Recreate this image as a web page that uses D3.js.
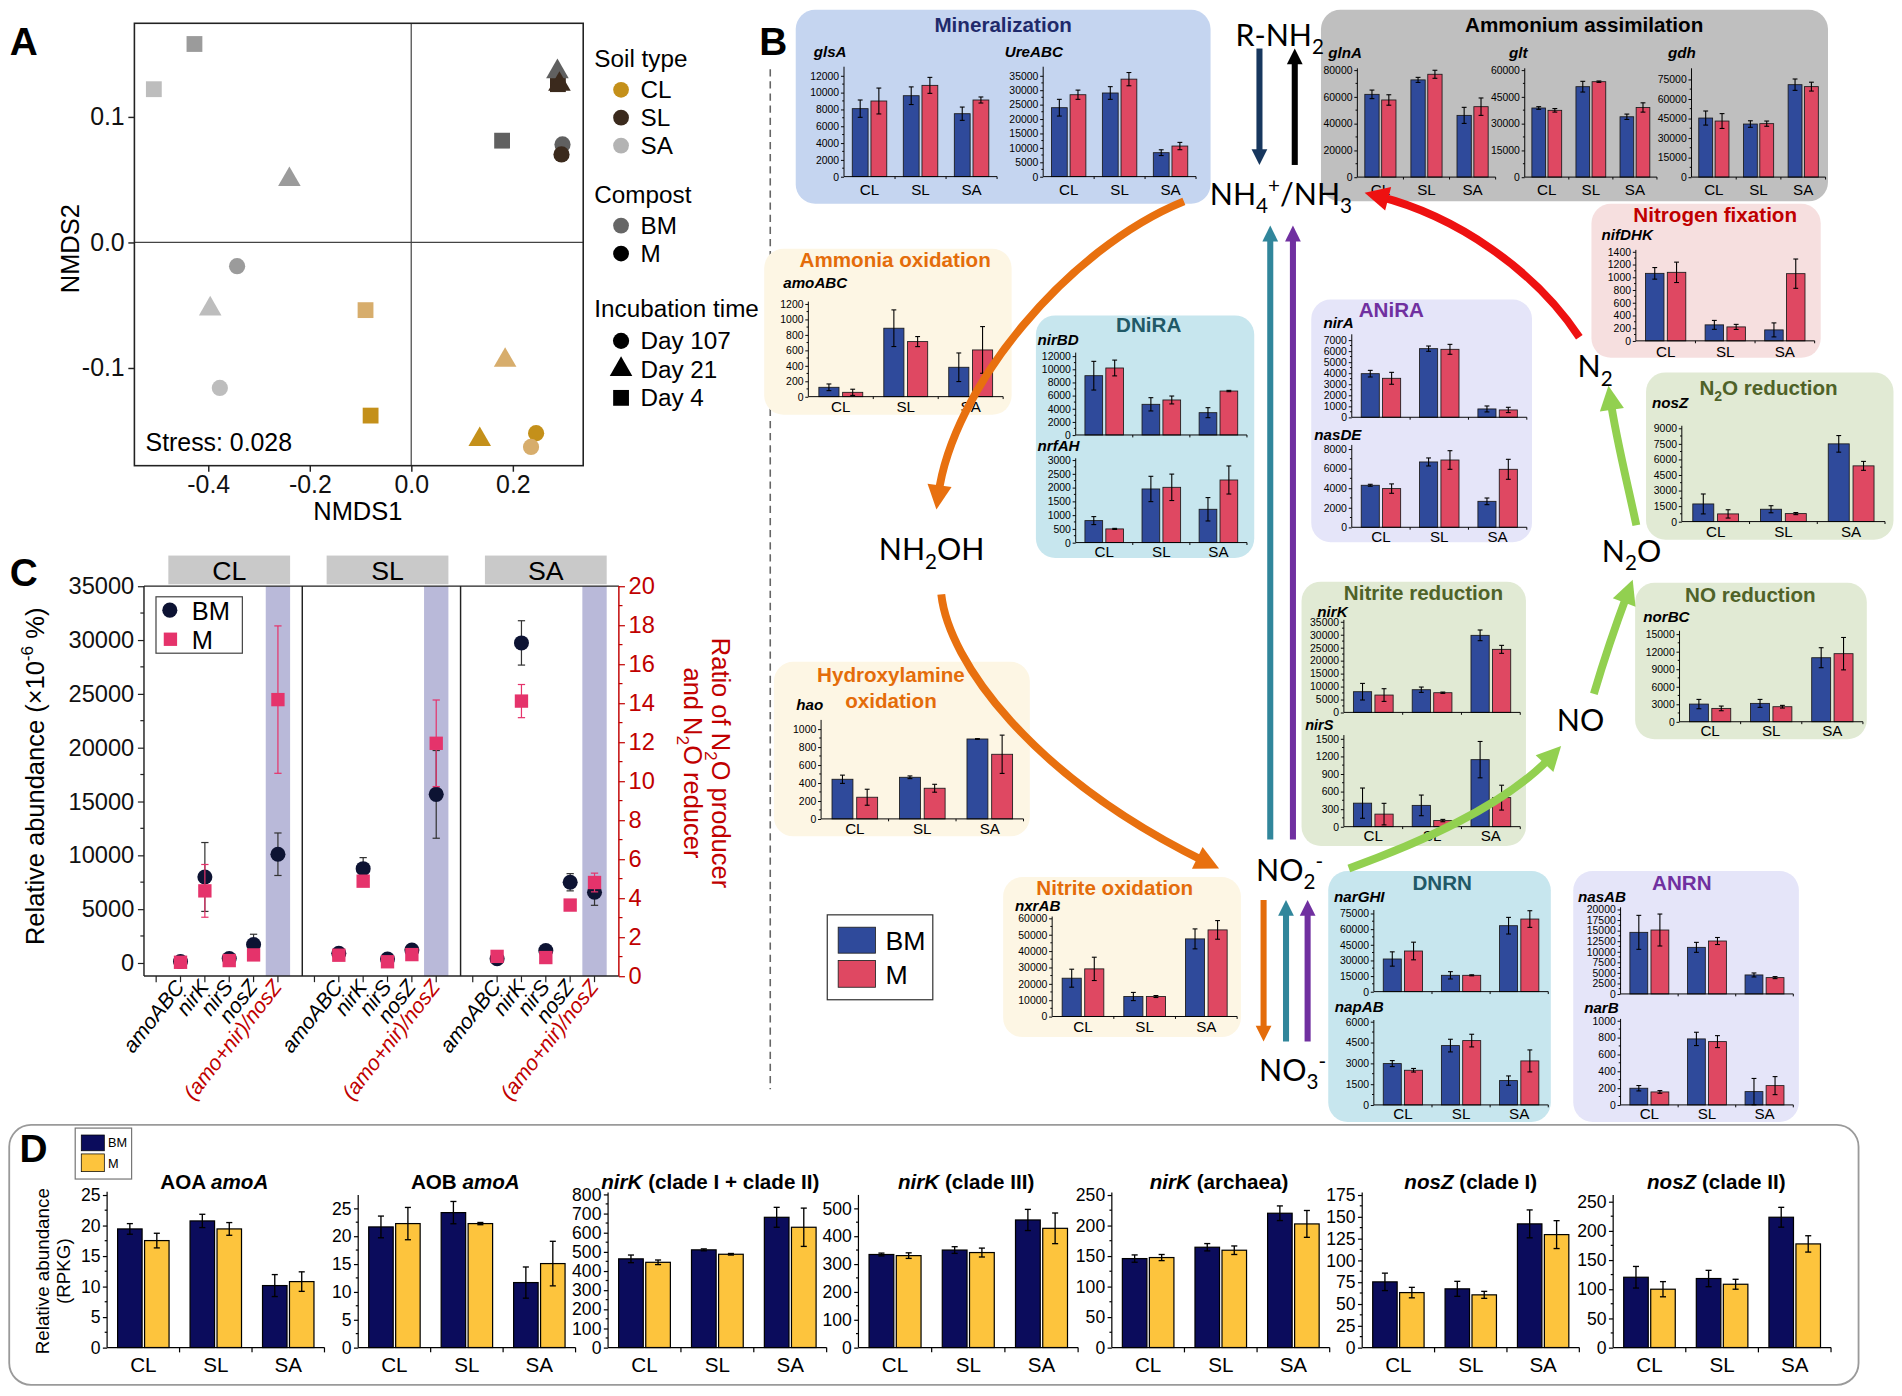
<!DOCTYPE html>
<html><head><meta charset="utf-8">
<script src="https://cdn.jsdelivr.net/npm/d3@7/dist/d3.min.js"></script>
<style>html,body{margin:0;padding:0;background:#fff}svg{display:block}</style>
</head><body>
<svg id="fig" width="1902" height="1396" xmlns="http://www.w3.org/2000/svg"></svg>
<script>
// ================= DATA =================
const soils = ["CL", "SL", "SA"];
const composts = ["BM", "M"];

// Panel A : NMDS ordination
const nmdsSoil    = ["SA","SA","SA","SA","SA","SA","SL","SL","SL","SL","SL","SL","CL","CL","CL","CL","CL","CL"];
const nmdsCompost = ["M","BM","M","BM","M","BM","BM","M","BM","M","BM","M","BM","M","BM","M","M","BM"];
const nmdsDay     = ["4","4","21","21","107","107","4","4","21","21","107","107","4","4","21","21","107","107"];
const nmds1 = [-0.427,-0.507,-0.240,-0.396,-0.343,-0.377, 0.179,0.289,0.288,0.292,0.298,0.296, -0.090,-0.080,0.185,0.135,0.246,0.236];
const nmds2 = [0.158,0.122,0.050,-0.053,-0.019,-0.116, 0.081,0.126,0.136,0.126,0.078,0.070, -0.054,-0.138,-0.094,-0.157,-0.152,-0.163];
const stressLabel = "Stress: 0.028";

// Panel B : gene abundances, rows = [BM, M], columns = [CL, SL, SA]
const glsA = [[8080, 9620, 7480], [8990, 10850, 9110]];
const glsA_err = [[1030, 1050, 790], [1540, 950, 360]];
const UreABC = [[23900, 29000, 8300], [28400, 33800, 10600]];
const UreABC_err = [[2900, 2200, 1000], [1600, 2300, 1270]];
const glnA = [[61800, 72600, 46100], [57600, 76800, 52600]];
const glnA_err = [[3200, 1900, 6000], [3900, 3000, 6500]];
const glt = [[38700, 50650, 33800], [37400, 53450, 39000]];
const glt_err = [[750, 3000, 1500], [1000, 400, 2600]];
const gdh = [[45300, 40700, 70900], [43000, 41000, 69400]];
const gdh_err = [[5400, 2500, 4350], [5700, 2000, 3400]];
const nifDHK = [[1060, 251, 172], [1076, 219, 1055]];
const nifDHK_err = [[91, 70, 110], [160, 40, 230]];
const nosZ = [[1700, 1190, 7490], [740, 770, 5370]];
const nosZ_err = [[960, 340, 800], [400, 100, 430]];
const amoABC = [[121, 885, 380], [56, 712, 604]];
const amoABC_err = [[43, 237, 185], [40, 65, 302]];
const nirBD = [[9010, 4660, 3390], [10180, 5320, 6680]];
const nirBD_err = [[2180, 1010, 760], [1200, 600, 100]];
const nrfAH = [[798, 1947, 1209], [496, 2007, 2273]];
const nrfAH_err = [[145, 460, 425], [20, 480, 510]];
const nirA = [[3950, 6216, 754], [3530, 6156, 664]];
const nirA_err = [[300, 240, 270], [540, 450, 240]];
const nasDE = [[4290, 6670, 2650], [3950, 6870, 5920]];
const nasDE_err = [[100, 410, 340], [480, 950, 1020]];
const hao = [[441, 463, 889], [241, 341, 719]];
const hao_err = [[46, 15, 4], [89, 44, 213]];
const nxrAB = [[23390, 12200, 47390], [29080, 12200, 52880]];
const nxrAB_err = [[5490, 2500, 6100], [7120, 600, 5690]];
const nirK = [[7980, 8750, 29725], [6690, 7590, 24320]];
const nirK_err = [[3200, 1030, 2060], [2450, 250, 1540]];
const nirS = [[401, 363, 1143], [214, 104, 495]];
const nirS_err = [[258, 176, 310], [184, 20, 212]];
const norBC = [[3020, 3140, 10950], [2280, 2570, 11640]];
const norBC_err = [[800, 680, 1710], [400, 230, 2770]];
const narGHI = [[31280, 15640, 63200], [38940, 15640, 69580]];
const narGHI_err = [[6860, 3510, 7980], [8460, 500, 7980]];
const napAB = [[2976, 4272, 1752], [2496, 4632, 3168]];
const napAB_err = [[216, 456, 336], [130, 456, 792]];
const nasAB = [[14570, 11020, 4490], [15120, 12520, 3860]];
const nasAB_err = [[4020, 1180, 470], [3780, 830, 240]];
const narB = [[198, 783, 158], [154, 751, 229]];
const narB_err = [[32, 79, 156], [16, 71, 107]];

// Panel C : ratio of N2O producer / reducer, per soil [CL, SL, SA]
const cLabels = ["amoABC", "nirK", "nirS", "nosZ", "(amo+nir)/nosZ"];
const ratioBM = [6.25, 9.32, 4.30];
const ratioBM_err = [1.09, 2.25, 0.67];
const ratioM = [14.18, 11.94, 4.80];
const ratioM_err = [3.78, 2.22, 0.48];

// Panel D : RPKG, rows = [BM, M]
const aoaAmoA = [[19.43, 20.74, 10.15], [17.52, 19.43, 10.8]];
const aoaAmoA_err = [[0.87, 1.09, 1.8], [1.2, 1.04, 1.6]];
const aobAmoA = [[21.65, 24.22, 11.66], [22.25, 22.25, 15.07]];
const aobAmoA_err = [[1.95, 2.0, 2.8], [2.9, 0.2, 4.0]];
const nirK12 = [[463, 510, 680], [445, 487, 628]];
const nirK12_err = [[20, 5, 52], [12, 4, 100]];
const nirK3 = [[334, 350, 458], [330, 341, 428]];
const nirK3_err = [[5, 12, 38], [10, 16, 55]];
const nirKarch = [[145.7, 164.3, 220], [147.4, 159.4, 202.5]];
const nirKarch_err = [[6, 6, 12], [5, 7, 22]];
const nosZ1 = [[75.3, 67.3, 141.8], [63, 60.4, 129.5]];
const nosZ1_err = [[10, 8.6, 16], [6, 4, 16]];
const nosZ2 = [[120.4, 118.2, 223.2], [99.9, 108.4, 177.5]];
const nosZ2_err = [[18.5, 14, 17], [13, 8.5, 14]];

// ================= STYLE =================
const SANS = "'Liberation Sans', Arial, Helvetica, sans-serif";
const NARROW = "'Liberation Sans Narrow', 'Arial Narrow', 'Liberation Sans', Arial, sans-serif";
const CHEM = "Lato, 'Liberation Sans', Arial, sans-serif";
const colorA = {CL: {M: "#c4901a", BM: "#d7ad6c"}, SL: {M: "#3b2a1d", BM: "#606060"}, SA: {M: "#9b9b9b", BM: "#bdbdbd"}};
const legendSoil = {CL: "#c4901a", SL: "#3b2a1d", SA: "#b3b3b3"};
const stB = {colors: ["#2f4a9b", "#df4862"], stroke: "#1a1a1a", sw: 0.7, ew: 0.9, cap: 2, bw: 0.31, gap: 0.056,
             tick: 2.5, minor: 1.5, pad: 1.5, tfs: 8.6, font: SANS, aw: 0.8, cfs: 12.5, xt: 2};
const stD = {colors: ["#0b0c5c", "#fdc43d"], stroke: "#000", sw: 1, ew: 1.1, cap: 2.5, bw: 0.338, gap: 0.034,
             tick: 3.5, minor: 2, pad: 2, tfs: 14.5, font: NARROW, aw: 1, cfs: 17, xt: 4};
const RED = "#c00000";

const svg = d3.select("#fig");
svg.append("rect").attr("width", 1902).attr("height", 1396).attr("fill", "#fff");
const root = svg.append("g").attr("transform", "scale(1.2130)");

// ---------- helpers ----------
function rich(parent, x, y, parts, o) {
  const t = parent.append("text").attr("x", x).attr("y", y).attr("font-size", o.fs)
    .attr("font-family", o.font || SANS).attr("fill", o.fill || "#000").attr("text-anchor", o.anchor || "start");
  if (o.weight) t.attr("font-weight", o.weight);
  if (o.style) t.attr("font-style", o.style);
  if (o.rotate != null) t.attr("transform", `rotate(${o.rotate},${x},${y})`);
  let cur = 0;
  parts.forEach(p => {
    const [txt, k, st] = p;
    const target = k === "sub" ? o.fs * 0.28 : k === "sup" ? -o.fs * 0.40 : 0;
    const ts = t.append("tspan").attr("dy", target - cur).text(txt);
    if (k === "sub" || k === "sup") ts.attr("font-size", o.fs * 0.68);
    if (st === "i") ts.attr("font-style", "italic");
    cur = target;
  });
  return t;
}

function miniBar(parent, vals, errs, L, st) {
  const g = parent.append("g");
  const x = d3.scaleBand().domain(soils).range([L.x0, L.x1]);
  const y = d3.scaleLinear().domain([0, L.tickMax]).range([L.y0, L.yTick]);
  const step = x.bandwidth(), bw = step * st.bw, gap = step * st.gap;
  composts.forEach((c, si) => {
    soils.forEach((s, ci) => {
      const v = vals[si][ci], e = errs[si][ci];
      const bx = si === 0 ? x(s) + step / 2 - gap / 2 - bw : x(s) + step / 2 + gap / 2;
      g.append("rect").attr("x", bx).attr("y", y(v)).attr("width", bw).attr("height", y(0) - y(v))
        .attr("fill", st.colors[si]).attr("stroke", st.stroke).attr("stroke-width", st.sw);
      const cx = bx + bw / 2;
      g.append("line").attr("x1", cx).attr("x2", cx).attr("y1", y(Math.max(0, v - e))).attr("y2", y(v + e))
        .attr("stroke", "#000").attr("stroke-width", st.ew);
      [Math.max(0, v - e), v + e].forEach(t => g.append("line").attr("x1", cx - st.cap).attr("x2", cx + st.cap)
        .attr("y1", y(t)).attr("y2", y(t)).attr("stroke", "#000").attr("stroke-width", st.ew));
    });
  });
  const ticks = d3.range(0, L.tickMax + 1e-6, L.tstep);
  const ag = g.append("g").attr("transform", `translate(${L.x0},0)`)
    .call(d3.axisLeft(y).tickValues(ticks).tickSize(st.tick).tickPadding(st.pad).tickFormat(d3.format("d")));
  ag.select(".domain").remove();
  ag.attr("font-size", st.tfs).attr("font-family", st.font);
  ag.selectAll("line").attr("stroke", "#000").attr("stroke-width", st.aw);
  ag.selectAll("text").attr("fill", "#000");
  ticks.slice(0, -1).forEach(t => {
    const ym = y(t + L.tstep / 2);
    g.append("line").attr("x1", L.x0 - st.minor).attr("x2", L.x0).attr("y1", ym).attr("y2", ym).attr("stroke", "#000").attr("stroke-width", st.aw);
  });
  g.append("line").attr("x1", L.x0).attr("x2", L.x0).attr("y1", L.y0).attr("y2", L.yTop).attr("stroke", "#000").attr("stroke-width", st.aw);
  g.append("line").attr("x1", L.x0).attr("x2", L.x1).attr("y1", L.y0).attr("y2", L.y0).attr("stroke", "#000").attr("stroke-width", st.aw);
  soils.slice(1).forEach(s => g.append("line").attr("x1", x(s)).attr("x2", x(s)).attr("y1", L.y0).attr("y2", L.y0 + st.xt)
    .attr("stroke", "#000").attr("stroke-width", st.aw));
  g.append("line").attr("x1", L.x1).attr("x2", L.x1).attr("y1", L.y0).attr("y2", L.y0 + st.xt).attr("stroke", "#000").attr("stroke-width", st.aw);
  if (L.cats) {
    soils.forEach(s => g.append("text").attr("x", x(s) + step / 2).attr("y", L.cy).attr("text-anchor", "middle")
      .attr("font-size", st.cfs).attr("font-family", st.font).text(s));
  }
  if (L.name) {
    g.append("text").attr("x", L.lx).attr("y", L.ly).attr("font-size", L.nfs || 12.5).attr("font-weight", "bold")
      .attr("font-style", "italic").attr("font-family", SANS).text(L.name);
  }
  return g;
}

function arrow(parent, pts, color, w, hl, hw) {
  let p0, c1, c2, p3;
  if (pts.length === 2) { p0 = pts[0]; p3 = pts[1]; c1 = p0; c2 = p3; } else { [p0, c1, c2, p3] = pts; }
  const ref = pts.length === 2 ? p0 : c2;
  const ang = Math.atan2(p3[1] - ref[1], p3[0] - ref[0]);
  const ux = Math.cos(ang), uy = Math.sin(ang);
  const bx = p3[0] - ux * hl, by = p3[1] - uy * hl;
  const ex = p3[0] - ux * hl * 0.6, ey = p3[1] - uy * hl * 0.6;
  const path = d3.path();
  path.moveTo(p0[0], p0[1]);
  if (pts.length === 2) path.lineTo(ex, ey); else path.bezierCurveTo(c1[0], c1[1], c2[0], c2[1], ex, ey);
  parent.append("path").attr("d", path.toString()).attr("fill", "none").attr("stroke", color).attr("stroke-width", w);
  parent.append("path").attr("d", `M${p3[0]},${p3[1]}L${bx - uy * hw / 2},${by + ux * hw / 2}L${bx + uy * hw / 2},${by - ux * hw / 2}Z`)
    .attr("fill", color);
}

// ================= PANEL A =================
(function () {
  const g = root.append("g");
  const x = d3.scaleLinear().domain([-0.5453, 0.3388]).range([110.8, 480.8]);
  const y = d3.scaleLinear().domain([-0.1779, 0.1745]).range([383.9, 19.2]);
  g.append("line").attr("x1", x(0)).attr("x2", x(0)).attr("y1", y.range()[0]).attr("y2", y.range()[1]).attr("stroke", "#444").attr("stroke-width", 1);
  g.append("line").attr("x1", x.range()[0]).attr("x2", x.range()[1]).attr("y1", y(0)).attr("y2", y(0)).attr("stroke", "#444").attr("stroke-width", 1);
  g.append("rect").attr("x", 110.8).attr("y", 19.2).attr("width", 370).attr("height", 364.7).attr("fill", "none").attr("stroke", "#222").attr("stroke-width", 1.3);
  const xa = g.append("g").attr("transform", "translate(0,383.9)")
    .call(d3.axisBottom(x).tickValues([-0.4, -0.2, 0, 0.2]).tickSize(5).tickPadding(3).tickFormat(d => d.toFixed(1)));
  const ya = g.append("g").attr("transform", "translate(110.8,0)")
    .call(d3.axisLeft(y).tickValues([-0.1, 0, 0.1]).tickSize(5).tickPadding(3).tickFormat(d => d.toFixed(1)));
  [xa, ya].forEach(a => { a.select(".domain").remove(); a.attr("font-size", 20.5).attr("font-family", SANS);
    a.selectAll("line").attr("stroke", "#222").attr("stroke-width", 1.2); a.selectAll("text").attr("fill", "#111"); });
  g.append("text").attr("x", 295).attr("y", 429).attr("text-anchor", "middle").attr("font-size", 21).attr("font-family", SANS).text("NMDS1");
  g.append("text").attr("transform", "translate(65,205) rotate(-90)").attr("text-anchor", "middle").attr("font-size", 21).attr("font-family", SANS).text("NMDS2");
  g.append("text").attr("x", 120).attr("y", 372).attr("font-size", 20.5).attr("font-family", SANS).text(stressLabel);
  const shape = {"107": d3.symbolCircle, "21": d3.symbolTriangle, "4": d3.symbolSquare};
  const size = {"107": 140, "21": 150, "4": 170};
  d3.range(nmds1.length).forEach(i => {
    g.append("path").attr("transform", `translate(${x(nmds1[i])},${y(nmds2[i])})`)
      .attr("d", d3.symbol().type(shape[nmdsDay[i]]).size(size[nmdsDay[i]])())
      .attr("fill", colorA[nmdsSoil[i]][nmdsCompost[i]]);
  });
  // legend
  const lg = g.append("g").attr("font-family", SANS).attr("font-size", 20);
  const sx = 512, tx = 528;
  lg.append("text").attr("x", 490).attr("y", 55).text("Soil type");
  soils.forEach((s, i) => {
    const yy = 74 + i * 23;
    lg.append("circle").attr("cx", sx).attr("cy", yy).attr("r", 6.5).attr("fill", legendSoil[s]);
    lg.append("text").attr("x", tx).attr("y", yy + 7).text(s);
  });
  lg.append("text").attr("x", 490).attr("y", 167).text("Compost");
  [["BM", "#666"], ["M", "#000"]].forEach(([c, col], i) => {
    const yy = 186 + i * 23;
    lg.append("circle").attr("cx", sx).attr("cy", yy).attr("r", 6.5).attr("fill", col);
    lg.append("text").attr("x", tx).attr("y", yy + 7).text(c);
  });
  lg.append("text").attr("x", 490).attr("y", 261).text("Incubation time");
  [["107", "Day 107"], ["21", "Day 21"], ["4", "Day 4"]].forEach(([d, lab], i) => {
    const yy = 281 + i * 23.5;
    lg.append("path").attr("transform", `translate(${sx},${yy})`).attr("d", d3.symbol().type(shape[d]).size(size[d])()).attr("fill", "#000");
    lg.append("text").attr("x", tx).attr("y", yy + 7).text(lab);
  });
  root.append("text").attr("x", 8).attr("y", 45).attr("font-size", 32).attr("font-weight", "bold").attr("font-family", SANS).text("A");
})();

// ================= PANEL C =================
(function () {
  const g = root.append("g").attr("font-family", SANS);
  const L = 118.7, R = 510.2, T = 483.2, B = 804.7;
  const yL = d3.scaleLinear().domain([0, 35000]).range([793.8, 483.2]);
  const yR = d3.scaleLinear().domain([0, 20]).range([804.7, 483.2]);
  const pw = (R - L) / 3;
  const geneVals = [amoABC, nirK, nirS, nosZ], geneErrs = [amoABC_err, nirK_err, nirS_err, nosZ_err];
  const navy = "#0d1333", pink = "#e5336b";
  soils.forEach((s, i) => {
    const xs = d3.scaleLinear().domain([0, 6.5]).range([L + i * pw, L + (i + 1) * pw]);
    g.append("rect").attr("x", xs(1)).attr("y", 458).attr("width", xs(6) - xs(1)).attr("height", 23.7).attr("fill", "#c9c9c9");
    g.append("text").attr("x", (xs(1) + xs(6)) / 2).attr("y", 478).attr("text-anchor", "middle").attr("font-size", 22).text(s);
    g.append("rect").attr("x", xs(5)).attr("y", T).attr("width", xs(6) - xs(5)).attr("height", B - T).attr("fill", "#b9b9d9");
    d3.range(0.5, 6, 1).forEach(t => g.append("line").attr("x1", xs(t)).attr("x2", xs(t)).attr("y1", B).attr("y2", B + 5).attr("stroke", "#222"));
    cLabels.forEach((lab, k) => {
      const px = xs(k + 1.5) + 4, py = 814;
      g.append("text").attr("x", px).attr("y", py).attr("text-anchor", "end").attr("font-size", 17.5).attr("font-style", "italic")
        .attr("fill", k === 4 ? RED : "#000").attr("transform", `rotate(-52,${px},${py})`).text(lab);
    });
    const pts = [];
    geneVals.forEach((arr, k) => {
      pts.push({x: xs(k + 1.5), ybm: yL(arr[0][i]), eb: [yL(arr[0][i] - geneErrs[k][0][i]), yL(arr[0][i] + geneErrs[k][0][i])],
        ym: yL(arr[1][i]), em: [yL(arr[1][i] - geneErrs[k][1][i]), yL(arr[1][i] + geneErrs[k][1][i])]});
    });
    pts.push({x: xs(5.5), ybm: yR(ratioBM[i]), eb: [yR(ratioBM[i] - ratioBM_err[i]), yR(ratioBM[i] + ratioBM_err[i])],
      ym: yR(ratioM[i]), em: [yR(ratioM[i] - ratioM_err[i]), yR(ratioM[i] + ratioM_err[i])]});
    const ebar = (px, e, col) => {
      g.append("line").attr("x1", px).attr("x2", px).attr("y1", e[0]).attr("y2", e[1]).attr("stroke", col).attr("stroke-width", 1);
      e.forEach(v => g.append("line").attr("x1", px - 3).attr("x2", px + 3).attr("y1", v).attr("y2", v).attr("stroke", col).attr("stroke-width", 1));
    };
    pts.forEach(p => { ebar(p.x, p.eb, "#333"); g.append("circle").attr("cx", p.x).attr("cy", p.ybm).attr("r", 6.2).attr("fill", navy); });
    pts.forEach(p => { ebar(p.x, p.em, pink); g.append("rect").attr("x", p.x - 5.5).attr("y", p.ym - 5.5).attr("width", 11).attr("height", 11).attr("fill", pink); });
  });
  [1, 2].forEach(k => g.append("line").attr("x1", L + k * pw).attr("x2", L + k * pw).attr("y1", T).attr("y2", B).attr("stroke", "#222").attr("stroke-width", 1.2));
  g.append("line").attr("x1", L).attr("x2", R).attr("y1", T).attr("y2", T).attr("stroke", "#222").attr("stroke-width", 1.2);
  g.append("line").attr("x1", L).attr("x2", R).attr("y1", B).attr("y2", B).attr("stroke", "#222").attr("stroke-width", 1.2);
  g.append("line").attr("x1", L).attr("x2", L).attr("y1", T).attr("y2", B).attr("stroke", "#222").attr("stroke-width", 1.2);
  g.append("line").attr("x1", R).attr("x2", R).attr("y1", T).attr("y2", B).attr("stroke", RED).attr("stroke-width", 1.2);
  const la = g.append("g").attr("transform", `translate(${L},0)`)
    .call(d3.axisLeft(yL).tickValues(d3.range(0, 35001, 5000)).tickSize(5).tickPadding(3).tickFormat(d3.format("d")));
  la.select(".domain").remove(); la.attr("font-size", 19.5).attr("font-family", SANS);
  la.selectAll("line").attr("stroke", "#222"); la.selectAll("text").attr("fill", "#111");
  d3.range(2500, 35000, 5000).forEach(t => g.append("line").attr("x1", L - 3).attr("x2", L).attr("y1", yL(t)).attr("y2", yL(t)).attr("stroke", "#222"));
  const ra = g.append("g").attr("transform", `translate(${R},0)`)
    .call(d3.axisRight(yR).tickValues(d3.range(0, 21, 2)).tickSize(5).tickPadding(3).tickFormat(d3.format("d")));
  ra.select(".domain").remove(); ra.attr("font-size", 19.5).attr("font-family", SANS);
  ra.selectAll("line").attr("stroke", RED); ra.selectAll("text").attr("fill", RED);
  d3.range(1, 20, 2).forEach(t => g.append("line").attr("x1", R).attr("x2", R + 3).attr("y1", yR(t)).attr("y2", yR(t)).attr("stroke", RED));
  // legend
  g.append("rect").attr("x", 128.6).attr("y", 492).attr("width", 71.2).attr("height", 46.5).attr("fill", "#fff").attr("stroke", "#444");
  g.append("circle").attr("cx", 140).attr("cy", 503).attr("r", 6.2).attr("fill", navy);
  g.append("rect").attr("x", 135).attr("y", 521.5).attr("width", 11).attr("height", 11).attr("fill", pink);
  g.append("text").attr("x", 158).attr("y", 511).attr("font-size", 21).text("BM");
  g.append("text").attr("x", 158).attr("y", 535).attr("font-size", 21).text("M");
  rich(g, 36, 640, [["Relative abundance (\u00d710", "", ""], ["-6", "sup", ""], [" %)", "", ""]], {fs: 21, anchor: "middle", rotate: -90});
  rich(g, 587, 629, [["Ratio of N", "", ""], ["2", "sub", ""], ["O producer", "", ""]], {fs: 21, anchor: "middle", rotate: 90, fill: RED});
  rich(g, 564, 629, [["and N", "", ""], ["2", "sub", ""], ["O reducer", "", ""]], {fs: 21, anchor: "middle", rotate: 90, fill: RED});
  root.append("text").attr("x", 8).attr("y", 483).attr("font-size", 32).attr("font-weight", "bold").attr("font-family", SANS).text("C");
})();

// ================= PANEL B =================
(function () {
  const g = root.append("g");
  g.append("line").attr("x1", 635).attr("x2", 635).attr("y1", 57).attr("y2", 898).attr("stroke", "#666").attr("stroke-width", 1.3).attr("stroke-dasharray", "6,4");
  root.append("text").attr("x", 626).attr("y", 45).attr("font-size", 32).attr("font-weight", "bold").attr("font-family", SANS).text("B");
  const boxes = [
    {x: 656, y: 8, w: 342, h: 160, fill: "#c5d5f0", title: [["Mineralization"]], tc: "#1f2a6b", tx: 827, ty: 26.6},
    {x: 1089, y: 8, w: 418, h: 158, fill: "#bfbfbf", title: [["Ammonium assimilation"]], tc: "#000", tx: 1306, ty: 26.6},
    {x: 1312, y: 168, w: 189, h: 127, fill: "#f6dfdf", title: [["Nitrogen fixation"]], tc: RED, tx: 1414, ty: 183},
    {x: 1357, y: 307, w: 204, h: 138, fill: "#e1ead4", title: [["N"], ["2", "sub"], ["O reduction"]], tc: "#4f6228", tx: 1458, ty: 326},
    {x: 630, y: 205, w: 204, h: 137, fill: "#fdf6e4", title: [["Ammonia oxidation"]], tc: "#e46c0a", tx: 738, ty: 220},
    {x: 854, y: 260, w: 180, h: 200, fill: "#c7e6ee", title: [["DNiRA"]], tc: "#215967", tx: 947, ty: 274},
    {x: 1081, y: 247, w: 182, h: 200, fill: "#e5e5f9", title: [["ANiRA"]], tc: "#7030a0", tx: 1147, ty: 261},
    {x: 638, y: 545.5, w: 211, h: 144, fill: "#fdf6e4", title: [["Hydroxylamine"]], tc: "#e46c0a", tx: 734.5, ty: 562.4},
    {x: 827, y: 723, w: 196, h: 132, fill: "#fdf6e4", title: [["Nitrite oxidation"]], tc: "#e46c0a", tx: 919, ty: 738},
    {x: 1073, y: 479.5, w: 185, h: 218, fill: "#e1ead4", title: [["Nitrite reduction"]], tc: "#4f6228", tx: 1173.5, ty: 495},
    {x: 1348, y: 480.5, w: 191, h: 129, fill: "#e1ead4", title: [["NO reduction"]], tc: "#4f6228", tx: 1443, ty: 496},
    {x: 1095, y: 718, w: 183.5, h: 207, fill: "#c7e6ee", title: [["DNRN"]], tc: "#215967", tx: 1189, ty: 733.7},
    {x: 1297, y: 718, w: 186, h: 207, fill: "#e5e5f9", title: [["ANRN"]], tc: "#7030a0", tx: 1386.5, ty: 733.7}
  ];
  boxes.forEach(b => {
    g.append("rect").attr("x", b.x).attr("y", b.y).attr("width", b.w).attr("height", b.h).attr("rx", 16).attr("fill", b.fill);
  });
  boxes.forEach(b => {
    rich(g, b.tx, b.ty, b.title.map(p => [p[0], p[1] || "", ""]), {fs: 17, anchor: "middle", weight: "bold", fill: b.tc});
  });
  g.append("text").attr("x", 734.5).attr("y", 583.6).attr("text-anchor", "middle").attr("font-size", 17).attr("font-weight", "bold")
    .attr("font-family", SANS).attr("fill", "#e46c0a").text("oxidation");

  const charts = [
    {v: glsA, e: glsA_err, name: "glsA", lx: 670.8, ly: 46.8, x0: 695.8, x1: 822, y0: 145.6, yTick: 62.4, tickMax: 12000, yTop: 55, tstep: 2000, cats: true, cy: 160.5},
    {v: UreABC, e: UreABC_err, name: "UreABC", lx: 828.3, ly: 46.8, x0: 860, x1: 986, y0: 145.6, yTick: 62.4, tickMax: 35000, yTop: 55, tstep: 5000, cats: true, cy: 160.5},
    {v: glnA, e: glnA_err, name: "glnA", lx: 1095, ly: 48, x0: 1119, x1: 1233, y0: 146, yTick: 57.7, tickMax: 80000, yTop: 56.3, tstep: 20000, cats: true, cy: 161},
    {v: glt, e: glt_err, name: "glt", lx: 1244, ly: 48, x0: 1257, x1: 1366, y0: 146, yTick: 57.7, tickMax: 60000, yTop: 56.3, tstep: 15000, cats: true, cy: 161},
    {v: gdh, e: gdh_err, name: "gdh", lx: 1375, ly: 48, x0: 1394.5, x1: 1505, y0: 146, yTick: 65.4, tickMax: 75000, yTop: 56.3, tstep: 15000, cats: true, cy: 161},
    {v: nifDHK, e: nifDHK_err, name: "nifDHK", lx: 1320.3, ly: 197.5, x0: 1348.6, x1: 1496, y0: 281, yTick: 207.5, tickMax: 1400, yTop: 206, tstep: 200, cats: true, cy: 294.5},
    {v: nosZ, e: nosZ_err, name: "nosZ", lx: 1362, ly: 336, x0: 1386.5, x1: 1554, y0: 430, yTick: 353, tickMax: 9000, yTop: 351, tstep: 1500, cats: true, cy: 442.5},
    {v: amoABC, e: amoABC_err, name: "amoABC", lx: 645.7, ly: 237.5, x0: 666.4, x1: 827, y0: 327, yTick: 250.5, tickMax: 1200, yTop: 248.6, tstep: 200, cats: true, cy: 340},
    {v: nirBD, e: nirBD_err, name: "nirBD", lx: 855.3, ly: 284.5, x0: 886.8, x1: 1028, y0: 358.6, yTick: 293.5, tickMax: 12000, yTop: 290.7, tstep: 2000, cats: false},
    {v: nrfAH, e: nrfAH_err, name: "nrfAH", lx: 855.3, ly: 372, x0: 886.8, x1: 1028, y0: 447.3, yTick: 379.2, tickMax: 3000, yTop: 377.8, tstep: 500, cats: true, cy: 459},
    {v: nirA, e: nirA_err, name: "nirA", lx: 1091, ly: 270.5, x0: 1114.4, x1: 1258.7, y0: 344, yTick: 280.3, tickMax: 7000, yTop: 275.6, tstep: 1000, cats: false},
    {v: nasDE, e: nasDE_err, name: "nasDE", lx: 1083.5, ly: 362.6, x0: 1114.4, x1: 1258.7, y0: 434.7, yTick: 370.1, tickMax: 8000, yTop: 366.8, tstep: 2000, cats: true, cy: 446.5},
    {v: hao, e: hao_err, name: "hao", lx: 656.4, ly: 585.2, x0: 676.9, x1: 843.8, y0: 675.1, yTick: 601, tickMax: 1000, yTop: 593.5, tstep: 200, cats: true, cy: 687.5},
    {v: nxrAB, e: nxrAB_err, name: "nxrAB", lx: 836.7, ly: 751.4, x0: 867.4, x1: 1019.9, y0: 838, yTick: 757, tickMax: 60000, yTop: 755.6, tstep: 10000, cats: true, cy: 850.5},
    {v: nirK, e: nirK_err, name: "nirK", lx: 1086, ly: 508.3, x0: 1107.9, x1: 1253.3, y0: 587.3, yTick: 512.5, tickMax: 35000, yTop: 511, tstep: 5000, cats: false},
    {v: nirS, e: nirS_err, name: "nirS", lx: 1076, ly: 601.5, nfs: 12, x0: 1107.9, x1: 1253.3, y0: 681.5, yTick: 609, tickMax: 1500, yTop: 606, tstep: 300, cats: true, cy: 693.5},
    {v: norBC, e: norBC_err, name: "norBC", lx: 1354.7, ly: 512.4, x0: 1384.6, x1: 1535.8, y0: 595, yTick: 522.7, tickMax: 15000, yTop: 520, tstep: 3000, cats: true, cy: 607},
    {v: narGHI, e: narGHI_err, name: "narGHI", lx: 1099.8, ly: 743.2, x0: 1132.6, x1: 1276.4, y0: 817.5, yTick: 753, tickMax: 75000, yTop: 750.2, tstep: 15000, cats: false},
    {v: napAB, e: napAB_err, name: "napAB", lx: 1100.4, ly: 833.9, x0: 1132.6, x1: 1276.4, y0: 910.9, yTick: 842.2, tickMax: 6000, yTop: 840.9, tstep: 1500, cats: true, cy: 922.5},
    {v: nasAB, e: nasAB_err, name: "nasAB", lx: 1300.9, ly: 743.2, x0: 1336, x1: 1478.4, y0: 819.4, yTick: 749.7, tickMax: 20000, yTop: 748, tstep: 2500, cats: false},
    {v: narB, e: narB_err, name: "narB", lx: 1306, ly: 835.3, x0: 1336, x1: 1478.4, y0: 910.9, yTick: 841.4, tickMax: 1000, yTop: 840, tstep: 200, cats: true, cy: 922.5}
  ];
  charts.forEach(c => miniBar(g, c.v, c.e, c, stB));

  // legend
  g.append("rect").attr("x", 682).attr("y", 754.2).attr("width", 87).attr("height", 70).attr("fill", "#fff").attr("stroke", "#333");
  g.append("rect").attr("x", 691).attr("y", 764.4).attr("width", 30.7).attr("height", 21.4).attr("fill", stB.colors[0]).attr("stroke", "#222").attr("stroke-width", 0.7);
  g.append("rect").attr("x", 691).attr("y", 791.9).attr("width", 30.7).attr("height", 22).attr("fill", stB.colors[1]).attr("stroke", "#222").attr("stroke-width", 0.7);
  g.append("text").attr("x", 730).attr("y", 783).attr("font-size", 22).attr("font-family", SANS).text("BM");
  g.append("text").attr("x", 730).attr("y", 811).attr("font-size", 22).attr("font-family", SANS).text("M");

  // arrows
  const A = g.append("g");
  arrow(A, [[1038.3, 40], [1038.3, 136]], "#17375e", 5, 13, 13);
  arrow(A, [[1067.4, 136], [1067.4, 40]], "#000", 5, 13, 13);
  arrow(A, [[1047.2, 692], [1047.2, 186]], "#31869b", 5, 13, 13);
  arrow(A, [[1065.9, 692], [1065.9, 186]], "#7030a0", 5, 13, 13);
  arrow(A, [[1041.7, 742], [1041.7, 858.6]], "#e46c0a", 5, 13, 13);
  arrow(A, [[1060.2, 858.6], [1060.2, 742]], "#31869b", 5, 13, 13);
  arrow(A, [[1078, 858.6], [1078, 742]], "#7030a0", 5, 13, 13);
  arrow(A, [[976, 166], [880, 205], [785, 320], [772, 420]], "#e8700f", 6.5, 20, 20);
  arrow(A, [[776, 490], [782, 545], [850, 640], [1005, 716]], "#e8700f", 6.5, 20, 20);
  arrow(A, [[1112, 716], [1170, 695], [1240, 665], [1287, 615]], "#92d050", 6.5, 20, 20);
  arrow(A, [[1314, 572], [1322, 545], [1334, 510], [1346, 478]], "#92d050", 6.5, 20, 20);
  arrow(A, [[1349, 433], [1342, 400], [1332, 360], [1326, 318]], "#92d050", 6.5, 20, 20);
  arrow(A, [[1302, 278], [1265, 222], [1200, 178], [1125, 159]], "#ee1111", 6.5, 20, 20);

  // chemical species
  const ch = {fs: 25, font: CHEM};
  rich(g, 1055, 37.6, [["R-NH", "", ""], ["2", "sub", ""]], Object.assign({anchor: "middle"}, ch));
  rich(g, 1056, 169, [["NH", "", ""], ["4", "sub", ""], ["+", "sup", ""], ["/NH", "", ""], ["3", "sub", ""]], Object.assign({anchor: "middle"}, ch));
  rich(g, 768, 462, [["NH", "", ""], ["2", "sub", ""], ["OH", "", ""]], Object.assign({anchor: "middle"}, ch));
  rich(g, 1035.5, 726, [["NO", "", ""], ["2", "sub", ""], ["-", "sup", ""]], ch);
  rich(g, 1038, 891, [["NO", "", ""], ["3", "sub", ""], ["-", "sup", ""]], ch);
  rich(g, 1303, 603, [["NO", "", ""]], Object.assign({anchor: "middle"}, ch));
  rich(g, 1345, 463, [["N", "", ""], ["2", "sub", ""], ["O", "", ""]], Object.assign({anchor: "middle"}, ch));
  rich(g, 1315, 311, [["N", "", ""], ["2", "sub", ""]], Object.assign({anchor: "middle"}, ch));
})();

// ================= PANEL D =================
(function () {
  const g = root.append("g");
  g.append("rect").attr("x", 7.6).attr("y", 927.4).attr("width", 1524.6).attr("height", 214.3).attr("rx", 18)
    .attr("fill", "none").attr("stroke", "#9a9a9a").attr("stroke-width", 1.5);
  root.append("text").attr("x", 16).attr("y", 958).attr("font-size", 32).attr("font-weight", "bold").attr("font-family", SANS).text("D");
  g.append("rect").attr("x", 62).attr("y", 930).attr("width", 46.5).attr("height", 42).attr("fill", "#fff").attr("stroke", "#777");
  g.append("rect").attr("x", 67).attr("y", 935.7).attr("width", 19).attr("height", 13).attr("fill", stD.colors[0]).attr("stroke", "#000").attr("stroke-width", 0.6);
  g.append("rect").attr("x", 67).attr("y", 951.3).attr("width", 19).attr("height", 14.6).attr("fill", stD.colors[1]).attr("stroke", "#000").attr("stroke-width", 0.6);
  g.append("text").attr("x", 89).attr("y", 946).attr("font-size", 10.5).attr("font-family", NARROW).text("BM");
  g.append("text").attr("x", 89).attr("y", 962.5).attr("font-size", 10.5).attr("font-family", NARROW).text("M");
  g.append("text").attr("transform", "translate(40,1048) rotate(-90)").attr("text-anchor", "middle").attr("font-size", 15.5).attr("font-family", SANS).text("Relative abundance");
  g.append("text").attr("transform", "translate(58,1048) rotate(-90)").attr("text-anchor", "middle").attr("font-size", 15.5).attr("font-family", SANS).text("(RPKG)");
  const charts = [
    {v: aoaAmoA, e: aoaAmoA_err, title: [["AOA ", "", ""], ["amoA", "", "i"]], x0: 88.3, x1: 267.5, tickMax: 25, yTick: 985.1, yTop: 982.4, tstep: 5, tx: 176.7},
    {v: aobAmoA, e: aobAmoA_err, title: [["AOB ", "", ""], ["amoA", "", "i"]], x0: 295.3, x1: 474.5, tickMax: 25, yTick: 996.1, yTop: 985.1, tstep: 5, tx: 383.6},
    {v: nirK12, e: nirK12_err, title: [["nirK", "", "i"], [" (clade I + clade II)", "", ""]], x0: 501.3, x1: 681.5, tickMax: 800, yTick: 984.6, yTop: 983, tstep: 100, tx: 585.6},
    {v: nirK3, e: nirK3_err, title: [["nirK", "", "i"], [" (clade III)", "", ""]], x0: 707.7, x1: 888.8, tickMax: 500, yTick: 996.1, yTop: 985.1, tstep: 100, tx: 796.5},
    {v: nirKarch, e: nirKarch_err, title: [["nirK", "", "i"], [" (archaea)", "", ""]], x0: 916.6, x1: 1096.2, tickMax: 250, yTick: 985.1, yTop: 983, tstep: 50, tx: 1005},
    {v: nosZ1, e: nosZ1_err, title: [["nosZ", "", "i"], [" (clade I)", "", ""]], x0: 1123, x1: 1302, tickMax: 175, yTick: 985.1, yTop: 983, tstep: 25, tx: 1212.5},
    {v: nosZ2, e: nosZ2_err, title: [["nosZ", "", "i"], [" (clade II)", "", ""]], x0: 1329.9, x1: 1509.5, tickMax: 250, yTick: 990.6, yTop: 985.1, tstep: 50, tx: 1414.9}
  ];
  charts.forEach(c => {
    miniBar(g, c.v, c.e, Object.assign({y0: 1110.9, cats: true, cy: 1131}, c), stD);
    rich(g, c.tx, 980, c.title, {fs: 17, anchor: "middle", weight: "bold", font: NARROW});
  });
})();
</script>
</body></html>
